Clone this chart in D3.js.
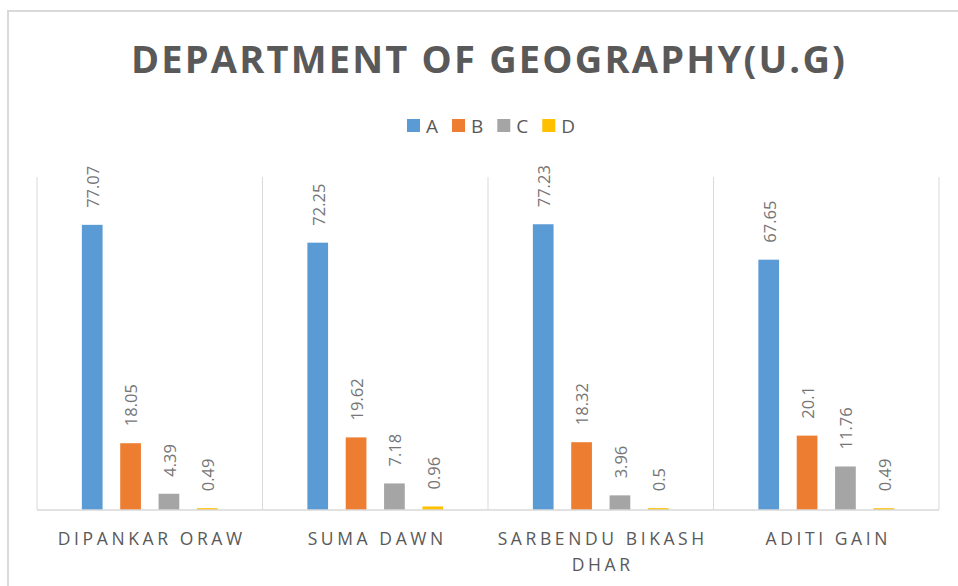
<!DOCTYPE html>
<html>
<head>
<meta charset="utf-8">
<script src="https://cdn.jsdelivr.net/npm/d3@7"></script>
<style>
  html, body { margin: 0; padding: 0; background: #fff; }
  svg { display: block; font-family: 'Open Sans', sans-serif; }
</style>
</head>
<body>
<div class="chart-container"></div>
<script>
// Data
const students = ['DIPANKAR ORAW', 'SUMA DAWN', 'SARBENDU BIKASH DHAR', 'ADITI GAIN'];
const grades = ['A', 'B', 'C', 'D'];
const gradeA = [77.07, 72.25, 77.23, 67.65];
const gradeB = [18.05, 19.62, 18.32, 20.1];
const gradeC = [4.39, 7.18, 3.96, 11.76];
const gradeD = [0.49, 0.96, 0.5, 0.49];
const colors = ['#5b9bd5', '#ed7d31', '#a5a5a5', '#ffc000'];
const titleText = 'DEPARTMENT OF GEOGRAPHY(U.G)';

const seriesValues = [gradeA, gradeB, gradeC, gradeD];
const tableData = students.map((name, i) => ({
    name: name,
    values: grades.map((g, j) => ({ key: g, value: seriesValues[j][i], color: colors[j] }))
}));

// Margin Convention
const totalWidth = 958;
const totalHeight = 586;
const margin = { top: 177, right: 19, bottom: 76, left: 37 };
const width = totalWidth - margin.left - margin.right;
const height = totalHeight - margin.top - margin.bottom;

// Scales
const x0 = d3.scaleBand()
    .domain(students)
    .range([0, width])
    .paddingInner(0)
    .paddingOuter(0);

const x1 = d3.scaleBand()
    .domain(grades)
    .range([0, x0.bandwidth()])
    .paddingInner(0.46)
    .paddingOuter(1.17);

const yScale = d3.scaleLinear()
    .domain([0, 90])
    .range([height, 0]);

// Draw base
const root = d3.select('.chart-container')
    .append('svg')
    .attr('width', totalWidth)
    .attr('height', totalHeight);

// chart border
root.append('rect')
    .attr('x', 8)
    .attr('y', 11)
    .attr('width', 980)
    .attr('height', 600)
    .attr('fill', 'none')
    .attr('stroke', '#d9d9d9')
    .attr('stroke-width', 2);

// Header
root.append('text')
    .attr('x', 488)
    .attr('y', 73)
    .attr('text-anchor', 'middle')
    .attr('font-size', 38)
    .attr('font-weight', 'bold')
    .attr('fill', '#595959')
    .attr('textLength', 714)
    .attr('lengthAdjust', 'spacing')
    .text(titleText);

// Legend
const legend = root.append('g').attr('class', 'legend');
let lx = 407;
grades.forEach((g, i) => {
    const item = legend.append('g').attr('transform', `translate(${lx}, 119)`);
    item.append('rect')
        .attr('width', 13)
        .attr('height', 13)
        .attr('fill', colors[i]);
    const t = item.append('text')
        .attr('x', 19)
        .attr('y', 13.5)
        .attr('font-size', 19)
        .attr('fill', '#595959')
        .text(g);
    lx += 19 + t.node().getComputedTextLength() + 14;
});

const svg = root.append('g')
    .attr('transform', `translate(${margin.left},${margin.top})`);

// Gridlines between categories
const boundaries = students.map(s => x0(s)).concat([width]);
svg.selectAll('.grid')
    .data(boundaries)
    .enter()
    .append('line')
    .attr('class', 'grid')
    .attr('x1', d => d)
    .attr('x2', d => d)
    .attr('y1', 0)
    .attr('y2', height)
    .attr('stroke', '#d9d9d9')
    .attr('stroke-width', 1);

// Draw Bars
const groups = svg.selectAll('.group')
    .data(tableData)
    .enter()
    .append('g')
    .attr('class', 'group')
    .attr('transform', d => `translate(${x0(d.name)},0)`);

groups.selectAll('rect')
    .data(d => d.values)
    .enter()
    .append('rect')
    .attr('x', d => x1(d.key))
    .attr('y', d => yScale(d.value))
    .attr('width', x1.bandwidth())
    .attr('height', d => height - yScale(d.value))
    .attr('fill', d => d.color);

// Data labels
groups.selectAll('.label')
    .data(d => d.values)
    .enter()
    .append('text')
    .attr('class', 'label')
    .attr('transform', d => `translate(${x1(d.key) + x1.bandwidth() / 2 + 1}, ${yScale(d.value) - 17}) rotate(-90)`)
    .attr('dy', '0.35em')
    .attr('font-size', 16.5)
    .attr('fill', '#767676')
    .text(d => d.value);

// Baseline
svg.append('line')
    .attr('x1', 0)
    .attr('x2', width)
    .attr('y1', height)
    .attr('y2', height)
    .attr('stroke', '#d9d9d9')
    .attr('stroke-width', 1.5);

// Category axis labels
function wrapLabel(textSel, maxWidth) {
    textSel.each(function(d) {
        const text = d3.select(this);
        const words = d.split(' ');
        let line = [];
        let tspan = text.append('tspan').attr('x', 0).attr('dy', 0);
        words.forEach(w => {
            line.push(w);
            tspan.text(line.join(' '));
            if (tspan.node().getComputedTextLength() > maxWidth && line.length > 1) {
                line.pop();
                tspan.text(line.join(' '));
                line = [w];
                tspan = text.append('tspan').attr('x', 0).attr('dy', 26).text(w);
            }
        });
    });
}

svg.selectAll('.cat')
    .data(students)
    .enter()
    .append('text')
    .attr('class', 'cat')
    .attr('transform', d => `translate(${x0(d) + x0.bandwidth() / 2 + 2}, ${height + 35})`)
    .attr('text-anchor', 'middle')
    .attr('font-size', 17.5)
    .attr('letter-spacing', 3.6)
    .attr('fill', '#595959')
    .call(wrapLabel, 220);
</script>
</body>
</html>
